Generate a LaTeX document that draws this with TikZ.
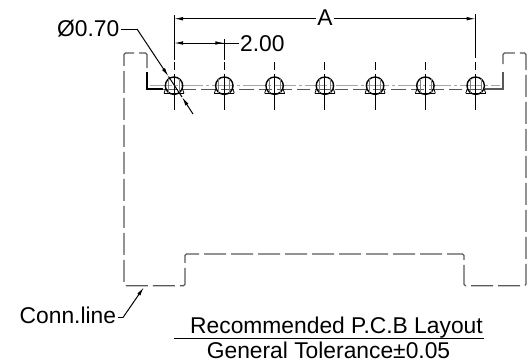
\documentclass[tikz,border=0pt]{standalone}
\usepackage{fontspec}
\setmainfont{Liberation Sans}
\usetikzlibrary{arrows.meta}
\definecolor{outl}{gray}{0.35}
\tikzset{
  x=1bp,y=-1bp,
  lbl/.style={inner sep=0pt,font=\fontsize{22.9}{24}\selectfont,text=black,anchor=base},
  dim/.style={line width=1pt,black},
  tip/.style={-{Latex[length=9bp,width=3.6bp]}},
  conn/.style={line width=1.1pt,outl,dash pattern=on 15bp off 5bp on 13bp off 5bp},
  outer/.style={line width=1.3pt,outl,dash pattern=on 22bp off 5bp,rounded corners=1.5bp},
  center/.style={line width=1pt,gray!70,dash pattern=on 22bp off 3bp on 3bp off 3bp},
  pin/.style={line width=1.4pt,black},
  pad/.style={line width=0.8pt,black},
  axis/.style={line width=1pt,black},
}
\begin{document}
\begin{tikzpicture}
\useasboundingbox (0,0) rectangle (528,362);
% outline
\draw[outer] (147,68) -- (147,53) -- (124,53) -- (124,285.7) -- (185,285.7) -- (185,254) -- (464,254) -- (464,285.7) -- (526,285.7) -- (526,53) -- (503,53) -- (503,68);
\draw[line width=1.2pt,black] (147,72) -- (147,89) -- (163,89);
\draw[line width=1.2pt,outl] (503,72) -- (503,89) -- (485,89);
\draw[conn] (163,89.5) -- (486,89.5);
\draw[center] (150,85.7) -- (500,85.7);
% pins
\foreach \i/\x in {1/174,2/224.3,3/274.6,4/324.9,5/375.1,6/425.4,7/475.7}{
  \coordinate (c\i) at (\x,85.7);
  \draw[pad] (\x-10,93.3) -- (\x+10,93.3);
  \draw[pad] (\x-10,93.3) -- (\x-8.5,89);
  \draw[pad] (\x+10,93.3) -- (\x+8.5,89);
  \draw[pin] (c\i) circle (8.7);
  \draw[line width=0.7pt,gray] (\x-5.5,79) -- (\x-5.5,92.5) (\x+5.5,79) -- (\x+5.5,92.5);
  \draw[axis] (\x,62) -- (\x,70) (\x,74) -- (\x,110);
}
% extension lines top
\coordinate (at) at (174,15);
\coordinate (bt) at (475.7,14);
\draw[axis] (at) -- (174,60);
\draw[axis] (bt) -- (475.7,58);
\coordinate (tt) at (224.3,39);
\draw[axis] (tt) -- (224.3,60);
% dim A
\node[lbl] (A) at (325,25.5) {A};
\coordinate (al) at (174,18.7);
\coordinate (ar) at (475.7,18.7);
\draw[dim,tip] (316,18.7) -- (al);
\draw[dim,tip] (334,18.7) -- (ar);
% dim 2.00
\node[lbl,anchor=base west] (two) at (240,51.5) {2.00};
\coordinate (tw) at (224.3,43);
\coordinate (tl) at (174,43);
\draw[dim,tip] (tw) -- (tl);
\draw[dim] (239,43) -- (tw);
\draw[dim,tip] (195,43) -- (tw);
% dia
\node[lbl,anchor=base east] (dia) at (119.5,36.5) {Ø0.70};
\coordinate (d1) at (137,29);
\coordinate (d2) at (168.5,76.5);
\coordinate (d3) at (193,114);
\coordinate (d4) at (182,97);
\draw[dim] (120.5,29) -- (d1);
\draw[dim,tip] (d1) -- (d2);
\draw[dim,tip] (d3) -- (d4);
\draw[line width=1pt,black] (d2) -- (d4);
% conn line
\node[lbl,anchor=base west] (cl) at (19.5,323.5) {Conn.line};
\coordinate (cl1) at (123,317.5);
\coordinate (cl2) at (144,287);
\draw[dim] (118,317.5) -- (cl1);
\draw[dim,tip] (cl1) -- (cl2);
% notes
\node[lbl] (rec) at (336.5,333) {Recommended P.C.B Layout};
\node[lbl] (gen) at (328.5,358) {General Tolerance±0.05};
\coordinate (u1) at (173.5,338.5);
\coordinate (u2) at (484,338.5);
\draw[line width=1pt,black] (u1) -- (u2);
\end{tikzpicture}
\end{document}
